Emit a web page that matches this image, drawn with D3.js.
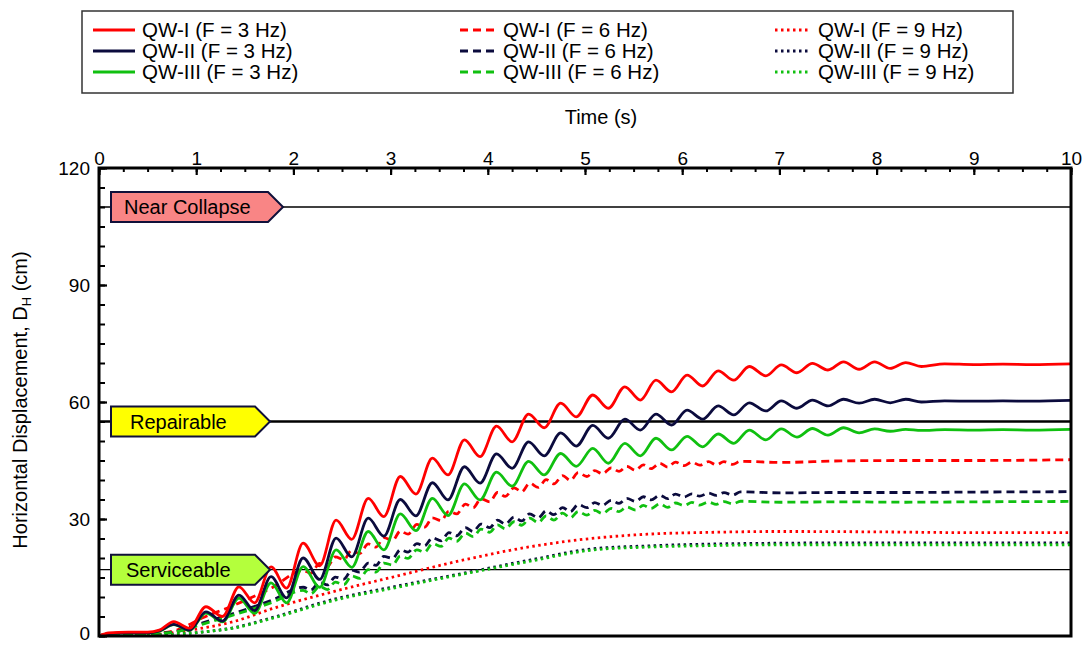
<!DOCTYPE html>
<html><head><meta charset="utf-8">
<script src="https://cdn.jsdelivr.net/npm/d3@7"></script>
<style>
body{margin:0;background:#fff;}
text{font-family:"Liberation Sans",Arial,sans-serif;fill:#000;}
</style></head>
<body><svg id="c" width="1087" height="645"></svg>
<script>
// ---- data ----
const xTicks = [0,1,2,3,4,5,6,7,8,9,10];
const yTicks = [0,30,60,90,120];
const thresholdNames = ["Near Collapse","Repairable","Serviceable"];
const thresholdValues = [110,55,17];
const thresholdFills = ["#f98585","#ffff00","#b4ff3c"];

const t3 = [0,0.1,0.3,0.5,0.62,0.77,0.93,1.10,1.27,1.44,1.60,1.77,1.93,2.10,2.27,2.44,2.60,2.77,2.93,3.10,3.26,3.43,3.59,3.76,3.92,4.09,4.25,4.42,4.58,4.75,4.91,5.08,5.24,5.41,5.57,5.73,5.89,6.05,6.21,6.37,6.53,6.69,6.86,7.02,7.18,7.34,7.50,7.66,7.82,7.98,8.14,8.30,8.46,8.7,9.0,9.3,9.6,10.0];
const qw1_3 = [0,0.8,1.0,1.0,1.5,3.7,2.0,7.5,5.0,12.6,8.5,17.7,12.3,23.8,18.0,29.7,24.8,35.3,30.6,40.9,36.4,45.6,41.3,50.3,46.0,53.8,49.8,56.9,53.4,59.7,56.2,61.8,58.4,63.9,60.5,65.6,62.6,66.9,64.1,68.0,65.6,69.1,66.7,69.5,67.5,69.9,68.2,70.3,68.4,70.3,68.6,70.1,69.1,69.8,69.6,69.7,69.6,69.8];
const qw2_3 = [0,0.6,0.8,0.8,1.3,3.0,1.5,6.2,3.8,10.5,6.5,15.2,9.8,20.0,14.5,25.1,20.3,30.2,25.6,35.0,30.8,39.3,34.9,43.4,39.2,46.7,43.0,49.8,46.2,52.1,48.7,54.0,50.7,55.6,52.8,56.9,54.1,57.9,55.6,59.0,56.7,59.8,57.7,60.3,58.4,60.5,59.0,60.7,59.7,60.7,59.8,60.7,60.0,60.3,60.2,60.3,60.2,60.4];
const qw3_3 = [0,0.6,0.8,0.8,1.2,2.9,1.4,5.9,3.6,9.7,5.8,13.6,8.5,17.8,12.5,22.1,17.6,26.8,22.1,31.3,27.0,35.3,30.9,39.0,34.9,42.0,38.4,44.8,41.3,46.8,43.5,48.1,44.3,49.4,46.2,50.7,47.7,51.2,48.5,51.8,49.4,52.8,50.3,53.1,51.0,53.2,51.5,53.4,52.1,53.1,52.5,53.0,52.7,52.9,52.8,52.9,52.8,53.0];

const t6 = [0,0.5,0.8,1.06,1.4,1.78,
  2.10,2.18,2.27,2.35,2.43,2.52,2.60,2.68,2.77,2.85,2.93,3.02,3.10,3.18,3.27,3.35,3.43,3.52,3.60,3.68,3.77,3.85,3.93,4.02,4.10,4.18,4.27,4.35,4.43,4.52,4.60,4.68,4.77,4.85,4.93,5.02,5.10,5.18,5.27,5.35,5.43,5.52,5.60,5.68,5.77,5.85,5.93,6.02,6.10,6.18,6.27,6.35,6.43,6.52,6.60,
  7.01,7.63,8.3,9.0,10.0];
const qw1_6 = [0,0.5,1.5,4.6,8.0,12.4,
  16.8,16.1,18.6,17.8,20.3,19.6,22.0,21.1,23.6,22.8,25.2,24.5,26.9,26.1,28.6,27.9,30.3,29.6,32.0,31.3,33.8,32.9,35.2,34.4,36.8,35.8,38.0,37.0,39.2,38.1,40.1,39.0,41.1,39.9,41.9,40.9,42.4,41.6,43.1,42.2,43.5,42.5,43.9,42.9,44.3,43.3,44.6,43.7,44.6,43.8,44.7,43.9,44.7,44.0,44.8,
  44.5,44.9,45.0,45.0,45.2];
const qw2_6 = [0,0.5,1.2,3.3,5.9,9.2,
  12.5,11.8,13.8,13.1,15.1,14.6,16.9,16.4,18.7,18.1,20.4,19.9,22.1,21.5,23.7,23.1,25.2,24.4,26.5,25.7,27.8,26.8,28.7,27.8,29.7,28.7,30.5,29.5,31.3,30.3,32.1,31.1,32.9,31.9,33.7,32.9,34.2,33.5,34.8,34.0,35.3,34.5,35.7,34.9,36.1,35.2,36.4,35.65,36.45,35.85,36.65,36.05,36.75,36.15,36.95,
  36.7,36.8,36.8,36.9,37.0];
const qw3_6 = [0,0.5,1.1,3.0,5.5,8.6,
  11.7,10.8,12.7,11.9,13.8,13.2,15.4,14.8,17.0,16.4,18.7,18.2,20.5,19.9,22.1,21.5,23.7,23.0,25.1,24.3,26.4,25.5,27.4,26.6,28.5,27.5,29.3,28.4,30.2,29.1,30.8,29.7,31.5,30.3,31.9,31.0,32.2,31.4,32.7,31.9,33.1,32.3,33.5,32.7,33.9,33.0,34.1,33.45,34.25,33.55,34.35,33.75,34.45,33.85,34.55,
  34.3,34.4,34.3,34.4,34.5];

const t9 = [0,0.5,1.06,1.4,1.78,2.43,3.07,3.75,4.44,5.06,5.64,6.33,7.0,8.0,9.0,10.0];
const qw1_9 = [0,0.3,2.0,3.8,7.0,11.5,15.4,19.5,22.9,25.0,26.1,26.6,26.8,26.7,26.5,26.5];
const qw2_9 = [0,0.2,1.0,2.2,4.7,9.5,12.8,16.1,19.5,22.3,23.1,23.6,23.8,23.9,23.9,23.9];
const qw3_9 = [0,0.2,1.0,2.1,4.5,9.2,12.5,15.9,19.2,22.0,22.8,23.2,23.4,23.4,23.4,23.4];

const seriesNames = ["QW-I (F = 3 Hz)","QW-II (F = 3 Hz)","QW-III (F = 3 Hz)",
                     "QW-I (F = 6 Hz)","QW-II (F = 6 Hz)","QW-III (F = 6 Hz)",
                     "QW-I (F = 9 Hz)","QW-II (F = 9 Hz)","QW-III (F = 9 Hz)"];

// ---- build ----
const colors = ["#ff0000","#0b0b3d","#10c010"];
const dashes = [null,"8,5","2.5,3.5"];
const series = [
  {t:t3,v:qw1_3,c:0,d:0},{t:t3,v:qw2_3,c:1,d:0},{t:t3,v:qw3_3,c:2,d:0},
  {t:t6,v:qw1_6,c:0,d:1},{t:t6,v:qw2_6,c:1,d:1},{t:t6,v:qw3_6,c:2,d:1},
  {t:t9,v:qw1_9,c:0,d:2},{t:t9,v:qw2_9,c:1,d:2},{t:t9,v:qw3_9,c:2,d:2}
];
const FONT = "Liberation Sans, Arial, sans-serif";

const svg = d3.select("#c");
const L=99,R=1071,T=168,B=636;
const x = d3.scaleLinear().domain([0,10]).range([L,R]);
const y = d3.scaleLinear().domain([0,120]).range([B,T]);

svg.append("clipPath").attr("id","clip").append("rect")
  .attr("x",L).attr("y",T).attr("width",R-L).attr("height",B-T);

// threshold lines
const thrW=[1.3,2.4,1.3];
thresholdValues.forEach((v,i)=>{
  svg.append("line").attr("x1",L).attr("x2",R).attr("y1",y(v)).attr("y2",y(v))
    .attr("stroke","#000").attr("stroke-width",thrW[i]);
});

// curves
const line = d3.line().curve(d3.curveMonotoneX);
const g = svg.append("g").attr("clip-path","url(#clip)");
[6,7,8,3,4,5,2,1,0].forEach(i=>{
  const s = series[i];
  const pts = s.t.map((tt,j)=>[x(tt),y(s.v[j])]);
  g.append("path").attr("d",line(pts)).attr("fill","none")
    .attr("stroke",colors[s.c]).attr("stroke-width",2.8)
    .attr("stroke-dasharray",dashes[s.d]);
});

// labels (arrow pentagons)
const labW=[157,144,144], tipW=15, labH=30, labX=111;
thresholdValues.forEach((v,i)=>{
  const cy=y(v), x0=labX, x1=labX+labW[i], x2=x1+tipW;
  svg.append("path")
    .attr("d",`M${x0},${cy-labH/2}L${x1},${cy-labH/2}L${x2},${cy}L${x1},${cy+labH/2}L${x0},${cy+labH/2}Z`)
    .attr("fill",thresholdFills[i]).attr("stroke","#10103a").attr("stroke-width",2);
  svg.append("text").attr("x",[124,130,126][i]).attr("y",cy+7)
    .attr("font-size",20).text(thresholdNames[i]);
});

// axes
const xMinor = d3.range(0,10.001,0.25);
svg.append("g").attr("transform",`translate(0,${T})`)
  .call(d3.axisTop(x).tickValues(xMinor).tickSizeInner(-4).tickSizeOuter(0).tickFormat(""))
  .call(g=>g.select(".domain").remove())
  .call(g=>g.selectAll("line").attr("stroke","#000").attr("stroke-width",2));
svg.append("g").attr("transform",`translate(0,${T})`)
  .call(d3.axisTop(x).tickValues(xTicks).tickSizeInner(-7).tickSizeOuter(0).tickPadding(3))
  .call(g=>g.select(".domain").remove())
  .call(g=>g.selectAll("line").attr("stroke","#000").attr("stroke-width",2.2))
  .call(g=>g.selectAll("text").attr("font-size",19).attr("font-family",FONT).attr("fill","#000"));

const yMinor = d3.range(0,120.001,5);
svg.append("g").attr("transform",`translate(${L},0)`)
  .call(d3.axisLeft(y).tickValues(yMinor).tickSizeInner(-6).tickSizeOuter(0).tickFormat(""))
  .call(g=>g.select(".domain").remove())
  .call(g=>g.selectAll("line").attr("stroke","#000").attr("stroke-width",2));
svg.append("g").attr("transform",`translate(${L},0)`)
  .call(d3.axisLeft(y).tickValues(yTicks).tickSizeInner(-8).tickSizeOuter(0).tickPadding(9))
  .call(g=>g.select(".domain").remove())
  .call(g=>g.selectAll("line").attr("stroke","#000").attr("stroke-width",2.2))
  .call(g=>g.selectAll("text").attr("font-size",19).attr("font-family",FONT).attr("fill","#000")
    .attr("dy",d=>d===0?"0.2em":"0.32em"));

// frame
svg.append("rect").attr("x",L).attr("y",T).attr("width",R-L).attr("height",B-T)
  .attr("fill","none").attr("stroke","#000").attr("stroke-width",3);

// axis titles
svg.append("text").attr("x",601).attr("y",124).attr("text-anchor","middle")
  .attr("font-size",20).text("Time (s)");
const yt = svg.append("text").attr("transform","translate(27,400) rotate(-90)")
  .attr("text-anchor","middle").attr("font-size",20);
yt.append("tspan").text("Horizontal Displacement, D");
yt.append("tspan").attr("font-size",13).attr("dy",4).text("H");
yt.append("tspan").attr("dy",-4).text(" (cm)");

// legend
svg.append("rect").attr("x",82).attr("y",11).attr("width",931).attr("height",82)
  .attr("fill","#fff").attr("stroke","#333").attr("stroke-width",1.5);
const colLineX=[93,460,775], colTextX=[142,503,818], rowY=[30,51,72];
series.forEach((s,i)=>{
  const col=s.d, row=s.c;
  const lx=colLineX[col], ly=rowY[row];
  svg.append("line").attr("x1",lx).attr("x2",lx+(col===0?42:36)).attr("y1",ly).attr("y2",ly)
    .attr("stroke",colors[s.c]).attr("stroke-width",3).attr("stroke-dasharray",dashes[s.d]);
  svg.append("text").attr("x",colTextX[col]).attr("y",ly+7).attr("font-size",20.5).text(seriesNames[i]);
});
</script></body></html>
